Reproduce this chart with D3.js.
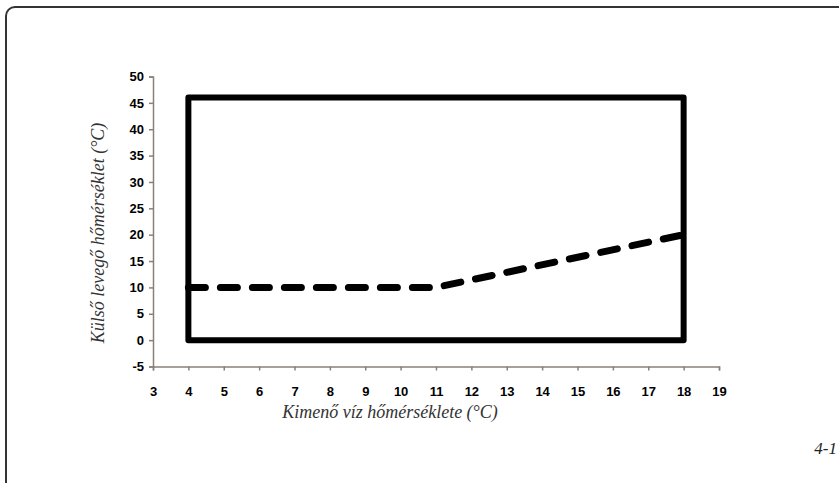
<!DOCTYPE html>
<html><head><meta charset="utf-8">
<script src="https://cdn.jsdelivr.net/npm/d3@7"></script>
<style>body{margin:0;background:#fff;}svg{display:block;}
.tk text{font-family:'Liberation Sans',Arial,sans-serif;font-weight:bold;font-size:13px;fill:#000;}
</style>
</head><body>
<svg id="c" width="839" height="483"></svg>
<script>
const xTicks = [3,4,5,6,7,8,9,10,11,12,13,14,15,16,17,18,19];
const yTicks = [-5,0,5,10,15,20,25,30,35,40,45,50];
const boxX = [4, 18, 18, 4, 4];
const boxY = [46, 46, 0, 0, 46];
const curveX = [4, 11, 18];
const curveY = [10, 10, 20];

const svg = d3.select("#c");
const x = d3.scaleLinear().domain([3,19]).range([153,719]);
const y = d3.scaleLinear().domain([-5,50]).range([366.5,76.5]);

// outer frame
svg.append("rect").attr("x",6).attr("y",7).attr("width",860).attr("height",500)
  .attr("rx",9).attr("fill","none").attr("stroke","#333").attr("stroke-width",2);

const axisColor = "#8a8078";
const gx = svg.append("g").attr("class","tk").attr("transform",`translate(0,${y(-5)})`)
  .call(d3.axisBottom(x).tickValues(xTicks).tickSize(4).tickPadding(16).tickFormat(d=>String(d)));
const gy = svg.append("g").attr("class","tk").attr("transform",`translate(${x(3)},0)`)
  .call(d3.axisLeft(y).tickValues(yTicks).tickSize(4).tickPadding(5).tickFormat(d=>String(d)));
[gx,gy].forEach(g=>{
  g.attr("font-size",null).attr("font-family",null);
  g.select(".domain").attr("stroke",axisColor).attr("stroke-width",1.5);
  g.selectAll(".tick line").attr("stroke",axisColor).attr("stroke-width",1.5);
  g.selectAll("text").attr("fill",null);
});

// box
const box = boxX.map((v,i)=>[v,boxY[i]]);
svg.append("path").datum(box)
  .attr("d", d3.line().x(d=>x(d[0])).y(d=>y(d[1])))
  .attr("fill","none").attr("stroke","#000").attr("stroke-width",6)
  .attr("stroke-linejoin","round").attr("stroke-linecap","round");

// dashed curve
const cur = curveX.map((v,i)=>[v,curveY[i]]);
svg.append("path").datum(cur)
  .attr("d", d3.line().x(d=>x(d[0])).y(d=>y(d[1])))
  .attr("fill","none").attr("stroke","#000").attr("stroke-width",7)
  .attr("stroke-dasharray","17,15").attr("stroke-linecap","round").attr("stroke-linejoin","round");

// titles
svg.append("text").attr("x",390).attr("y",418).attr("text-anchor","middle")
  .attr("font-family","'Liberation Serif', serif").attr("font-style","italic")
  .attr("font-size","18px").attr("fill","#333").text("Kimenő víz hőmérséklete (°C)");
svg.append("text").attr("transform","translate(104,233) rotate(-90)").attr("text-anchor","middle")
  .attr("font-family","'Liberation Serif', serif").attr("font-style","italic")
  .attr("font-size","18px").attr("fill","#333").text("Külső levegő hőmérséklet (°C)");
svg.append("text").attr("x",837).attr("y",454).attr("text-anchor","end")
  .attr("font-family","'Liberation Serif', serif").attr("font-style","italic")
  .attr("font-size","17px").attr("fill","#222").text("4-1");
</script>
</body></html>
